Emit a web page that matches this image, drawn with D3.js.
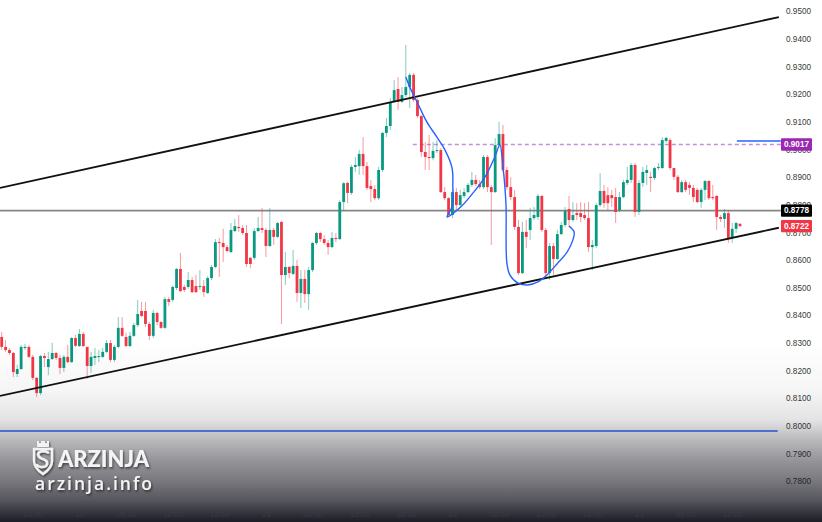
<!DOCTYPE html>
<html><head><meta charset="utf-8">
<script src="https://cdn.jsdelivr.net/npm/d3@7"></script>
<style>html,body{margin:0;padding:0;background:#fff;overflow:hidden}svg{display:block}</style>
</head><body>
<svg id="chart" width="822" height="522"></svg>
<script>
// ---- DATA (30-minute candles) ----
const opens = [0.8321,0.8285,0.8274,0.8263,0.8187,0.8205,0.8281,0.8285,0.8249,0.8173,
0.8118,0.8252,0.8212,0.8241,0.8263,0.8245,0.8209,0.8249,0.8230,0.8317,
0.8288,0.8332,0.8285,0.8216,0.8245,0.8249,0.8249,0.8267,0.8299,0.8238,
0.8285,0.8354,0.8321,0.8288,0.8325,0.8364,0.8415,0.8415,0.8368,0.8325,
0.8408,0.8375,0.8354,0.8458,0.8455,0.8498,0.8567,0.8502,0.8502,0.8527,
0.8505,0.8502,0.8505,0.8480,0.8534,0.8574,0.8664,0.8661,0.8646,0.8628,
0.8704,0.8719,0.8715,0.8697,0.8607,0.8607,0.8704,0.8715,0.8708,0.8650,
0.8708,0.8683,0.8737,0.8545,0.8574,0.8549,0.8578,0.8480,0.8531,0.8476,
0.8563,0.8661,0.8697,0.8675,0.8661,0.8646,0.8679,0.8675,0.8809,0.8878,
0.8842,0.8936,0.8939,0.8983,0.8939,0.8867,0.8856,0.8823,0.8925,0.9059,
0.9084,0.9171,0.9218,0.9171,0.9196,0.9225,0.9269,0.9178,0.9120,0.8990,
0.8972,0.8968,0.8994,0.8997,0.8845,0.8823,0.8762,0.8845,0.8798,0.8831,
0.8845,0.8871,0.8889,0.8874,0.8863,0.8972,0.8863,0.8845,0.9015,0.9055,
0.8925,0.8863,0.8827,0.8719,0.8552,0.8701,0.8708,0.8751,0.8755,0.8831,
0.8708,0.8552,0.8650,0.8603,0.8693,0.8726,0.8784,0.8744,0.8769,0.8769,
0.8762,0.8751,0.8646,0.8650,0.8798,0.8849,0.8834,0.8834,0.8827,0.8780,
0.8827,0.8878,0.8889,0.8943,0.8773,0.8878,0.8914,0.8900,0.8896,0.8932,
0.8932,0.9030,0.9033,0.8932,0.8900,0.8845,0.8881,0.8871,0.8860,0.8853,
0.8809,0.8853,0.8885,0.8827,0.8831,0.8755,0.8748,0.8769,0.8679,0.8712,
0.8730];
const highs = [0.8339,0.8310,0.8281,0.8267,0.8220,0.8292,0.8296,0.8292,0.8256,0.8176,
0.8256,0.8263,0.8267,0.8300,0.8267,0.8256,0.8256,0.8292,0.8321,0.8328,
0.8350,0.8339,0.8285,0.8267,0.8281,0.8274,0.8281,0.8310,0.8310,0.8292,
0.8393,0.8393,0.8336,0.8339,0.8372,0.8455,0.8448,0.8448,0.8375,0.8419,
0.8411,0.8379,0.8466,0.8466,0.8506,0.8570,0.8625,0.8509,0.8556,0.8538,
0.8545,0.8563,0.8527,0.8541,0.8581,0.8675,0.8679,0.8712,0.8654,0.8733,
0.8748,0.8762,0.8726,0.8726,0.8610,0.8715,0.8755,0.8788,0.8715,0.8788,
0.8715,0.8737,0.8740,0.8628,0.8578,0.8636,0.8600,0.8563,0.8563,0.8574,
0.8664,0.8701,0.8701,0.8690,0.8672,0.8701,0.8697,0.8816,0.8881,0.8882,
0.8943,0.8972,0.8997,0.9044,0.8954,0.8889,0.8870,0.8936,0.9062,0.9113,
0.9185,0.9250,0.9261,0.9225,0.9377,0.9276,0.9276,0.9185,0.9124,0.9026,
0.9052,0.9026,0.9033,0.9004,0.8863,0.8827,0.8853,0.8860,0.8853,0.8860,
0.8878,0.8918,0.8907,0.8889,0.8979,0.8979,0.8870,0.9040,0.9099,0.9088,
0.8936,0.8899,0.8853,0.8744,0.8737,0.8744,0.8788,0.8791,0.8838,0.8834,
0.8715,0.8661,0.8661,0.8708,0.8737,0.8791,0.8831,0.8809,0.8805,0.8809,
0.8805,0.8809,0.8672,0.8805,0.8914,0.8871,0.8863,0.8853,0.8860,0.8845,
0.8889,0.8936,0.8950,0.8950,0.8889,0.8936,0.8943,0.8918,0.8936,0.8950,
0.9044,0.9044,0.9041,0.8932,0.8907,0.8889,0.8889,0.8881,0.8871,0.8860,
0.8860,0.8889,0.8889,0.8871,0.8834,0.8762,0.8784,0.8780,0.8733,0.8737,
0.8733];
const lows = [0.8274,0.8267,0.8256,0.8176,0.8176,0.8202,0.8274,0.8245,0.8165,0.8104,
0.8111,0.8212,0.8183,0.8238,0.8238,0.8187,0.8194,0.8227,0.8227,0.8285,
0.8285,0.8285,0.8169,0.8191,0.8220,0.8230,0.8245,0.8263,0.8230,0.8230,
0.8281,0.8321,0.8285,0.8285,0.8321,0.8357,0.8393,0.8357,0.8310,0.8317,
0.8364,0.8350,0.8350,0.8433,0.8448,0.8491,0.8483,0.8483,0.8495,0.8480,
0.8480,0.8491,0.8466,0.8476,0.8527,0.8570,0.8538,0.8592,0.8628,0.8625,
0.8701,0.8701,0.8690,0.8574,0.8570,0.8600,0.8701,0.8697,0.8610,0.8646,
0.8654,0.8679,0.8368,0.8509,0.8534,0.8545,0.8448,0.8426,0.8444,0.8419,
0.8556,0.8654,0.8664,0.8654,0.8618,0.8643,0.8664,0.8672,0.8780,0.8805,
0.8835,0.8918,0.8907,0.8907,0.8853,0.8809,0.8816,0.8816,0.8918,0.9044,
0.9070,0.9167,0.9142,0.9167,0.9189,0.9149,0.9171,0.9113,0.8972,0.8925,
0.8925,0.8960,0.8986,0.8842,0.8816,0.8755,0.8751,0.8780,0.8791,0.8823,
0.8842,0.8863,0.8867,0.8856,0.8856,0.8845,0.8654,0.8842,0.9008,0.8918,
0.8853,0.8816,0.8708,0.8545,0.8549,0.8643,0.8672,0.8744,0.8744,0.8701,
0.8538,0.8527,0.8545,0.8600,0.8690,0.8719,0.8719,0.8737,0.8744,0.8737,
0.8744,0.8628,0.8563,0.8643,0.8791,0.8788,0.8780,0.8791,0.8733,0.8773,
0.8823,0.8871,0.8878,0.8755,0.8762,0.8863,0.8871,0.8845,0.8889,0.8925,
0.8929,0.9023,0.8925,0.8889,0.8842,0.8842,0.8845,0.8835,0.8809,0.8805,
0.8788,0.8816,0.8816,0.8816,0.8708,0.8737,0.8715,0.8661,0.8661,0.8697,
0.8719];
const closes = [0.8285,0.8274,0.8263,0.8194,0.8205,0.8285,0.8285,0.8249,0.8173,0.8118,
0.8252,0.8245,0.8241,0.8263,0.8245,0.8209,0.8249,0.8230,0.8317,0.8289,
0.8332,0.8288,0.8216,0.8249,0.8252,0.8252,0.8267,0.8299,0.8238,0.8285,
0.8354,0.8325,0.8288,0.8325,0.8364,0.8404,0.8397,0.8368,0.8325,0.8408,
0.8375,0.8354,0.8458,0.8448,0.8502,0.8567,0.8487,0.8491,0.8527,0.8483,
0.8483,0.8505,0.8483,0.8534,0.8574,0.8664,0.8661,0.8646,0.8632,0.8708,
0.8722,0.8715,0.8697,0.8585,0.8585,0.8704,0.8715,0.8708,0.8650,0.8708,
0.8683,0.8733,0.8545,0.8574,0.8552,0.8578,0.8480,0.8531,0.8476,0.8563,
0.8661,0.8697,0.8675,0.8661,0.8646,0.8679,0.8675,0.8809,0.8877,0.8842,
0.8936,0.8943,0.8983,0.8939,0.8860,0.8856,0.8823,0.8925,0.9059,0.9084,
0.9171,0.9214,0.9171,0.9196,0.9225,0.9269,0.9178,0.9120,0.8990,0.8972,
0.8968,0.8994,0.8997,0.8845,0.8823,0.8762,0.8845,0.8798,0.8834,0.8845,
0.8871,0.8889,0.8874,0.8863,0.8972,0.8863,0.8845,0.9015,0.9055,0.8925,
0.8863,0.8827,0.8719,0.8552,0.8701,0.8683,0.8751,0.8762,0.8831,0.8708,
0.8552,0.8650,0.8603,0.8693,0.8726,0.8777,0.8744,0.8762,0.8762,0.8755,
0.8751,0.8646,0.8654,0.8798,0.8849,0.8805,0.8805,0.8823,0.8773,0.8827,
0.8881,0.8889,0.8943,0.8773,0.8878,0.8918,0.8925,0.8896,0.8932,0.8936,
0.9033,0.9041,0.8932,0.8900,0.8845,0.8881,0.8853,0.8860,0.8827,0.8809,
0.8853,0.8885,0.8823,0.8823,0.8755,0.8748,0.8769,0.8679,0.8712,0.8733,
0.8722];

// price axis ticks
const priceTicks = [0.95,0.94,0.93,0.92,0.91,0.90,0.89,0.88,0.87,0.86,0.85,0.84,0.83,0.82,0.81,0.80,0.79,0.78];
// time axis labels and the candle index they sit at
const timeLabels = ["18:00","20","06:00","12:00","18:00","21","06:00","12:00","18:00","22","06:00","12:00","18:00","23","06:00","12:00"];
const timeLabelIndex = [8,20,32,44,56,68,80,92,104,116,128,140,152,164,176,188];

// drawings: [candle index, price]
const upperChannel = [[-0.44,0.8860],[200.0,0.9478]];
const lowerChannel = [[-0.44,0.8108],[200.0,0.8716]];
const hLineGray = {price:0.8778, from:-0.44, to:200.5};
const hLineBlue = {price:0.7981, from:-0.44, to:199.7};
const hLineDash = {price:0.9017, from:105.8, to:200.5};
const hLineBlueShort = {price:0.9030, from:189.2, to:200.5};
const blueCurve = [[104.0,0.9261],[105.1,0.9222],[106.9,0.9171],[109.4,0.9099],[112.0,0.9044],[114.1,0.8997],
 [115.9,0.8932],[116.1,0.8863],[116.1,0.8798],[114.6,0.8755],[117.9,0.8788],[121.3,0.8842],[124.4,0.8900],
 [126.9,0.8972],[128.2,0.9015],[129.0,0.8936],[129.5,0.8863],[129.8,0.8791],[130.0,0.8589],[130.8,0.8545],
 [132.9,0.8516],[135.4,0.8509],[138.0,0.8520],[140.3,0.8545],[142.9,0.8585],[145.5,0.8628],[147.0,0.8672],
 [147.3,0.8701],[146.0,0.8722]];
const priceTags = [
  {value:"0.9017", price:0.9017, bg:"#9c27b0"},
  {value:"0.8778", price:0.8778, bg:"#000000"},
  {value:"0.8722", price:0.8722, bg:"#f23645"}
];

// ---- DRAW ----
const svg = d3.select("#chart");
const W = 822, H = 522;
const x = d3.scaleLinear().domain([0, 190]).range([1.7, 740]);
const y = d3.scaleLinear().domain([0.78, 0.95]).range([481, 11]);
const UP = "#089981", DOWN = "#f23645";
const font = "'Liberation Sans', Arial, sans-serif";

svg.append("rect").attr("width", W).attr("height", H).attr("fill", "#ffffff");

// price axis labels (right)
const yAxis = d3.axisRight(y).tickValues(priceTicks).tickFormat(d3.format(".4f")).tickSize(0).tickPadding(0);
const gy = svg.append("g").attr("transform", "translate(786,0)").call(yAxis);
gy.select(".domain").remove();
gy.selectAll("text").attr("font-family", font).attr("font-size", 8.2).attr("fill", "#3a3a3a").attr("dy", "0.35em");

// horizontal lines
function hline(o, color, width, dash) {
  svg.append("line").attr("x1", x(o.from)).attr("x2", x(o.to))
    .attr("y1", y(o.price)).attr("y2", y(o.price))
    .attr("stroke", color).attr("stroke-width", width)
    .attr("stroke-dasharray", dash || null);
}
hline(hLineGray, "#858585", 1.6);
hline(hLineBlue, "#2962ff", 1.5);
hline(hLineDash, "#c98bdc", 1.4, "4,3");
hline(hLineBlueShort, "#2962ff", 1.5);

// candles
const idx = d3.range(opens.length);
const bw = 2.8;
const g = svg.append("g");
g.selectAll("line.wick").data(idx).join("line").attr("class", "wick")
  .attr("x1", i => x(i)).attr("x2", i => x(i))
  .attr("y1", i => y(highs[i])).attr("y2", i => y(lows[i]))
  .attr("stroke", i => closes[i] >= opens[i] ? UP : DOWN)
  .attr("stroke-opacity", 0.5).attr("stroke-width", 1);
g.selectAll("rect.body").data(idx).join("rect").attr("class", "body")
  .attr("x", i => x(i) - bw / 2).attr("width", bw)
  .attr("y", i => y(Math.max(opens[i], closes[i])))
  .attr("height", i => Math.max(1, Math.abs(y(opens[i]) - y(closes[i]))))
  .attr("fill", i => closes[i] >= opens[i] ? UP : DOWN);

// channel lines
const lineGen = d3.line().x(d => x(d[0])).y(d => y(d[1]));
svg.append("path").attr("d", lineGen(upperChannel)).attr("stroke", "#111").attr("stroke-width", 1.8).attr("fill", "none");
svg.append("path").attr("d", lineGen(lowerChannel)).attr("stroke", "#111").attr("stroke-width", 1.8).attr("fill", "none");

// blue hand-drawn curve
svg.append("path").attr("d", lineGen.curve(d3.curveCatmullRom.alpha(0.5))(blueCurve))
  .attr("stroke", "#2962ff").attr("stroke-width", 1.4).attr("fill", "none");

// price tags
const tags = svg.append("g");
priceTags.forEach(t => {
  tags.append("rect").attr("x", 781).attr("y", y(t.price) - 6.2).attr("width", 31).attr("height", 12.4)
    .attr("fill", t.bg).attr("rx", 1);
  tags.append("text").attr("x", 796.5).attr("y", y(t.price)).attr("dy", "0.35em")
    .attr("text-anchor", "middle").attr("font-family", font).attr("font-size", 8.2)
    .attr("font-weight", "bold").attr("fill", "#ffffff").text(t.value);
});

// bottom dark gradient overlay
const defs = svg.append("defs");
const grad = defs.append("linearGradient").attr("id", "fade").attr("gradientUnits", "userSpaceOnUse")
  .attr("x1", 0).attr("x2", 0).attr("y1", 0).attr("y2", H);
[[340,0],[390,0.04],[420,0.12],[440,0.3],[460,0.45],[480,0.57],[500,0.72],[522,0.97]].forEach(s => {
  grad.append("stop").attr("offset", s[0] / H).attr("stop-color", "#15151f").attr("stop-opacity", s[1]);
});
svg.append("rect").attr("width", W).attr("height", H).attr("fill", "url(#fade)");

// time axis labels
const xAxis = d3.axisBottom(x).tickValues(timeLabelIndex).tickFormat((d, i) => timeLabels[i]).tickSize(0).tickPadding(0);
const gx = svg.append("g").attr("transform", "translate(0,514)").call(xAxis);
gx.select(".domain").remove();
gx.selectAll("text").attr("font-family", font).attr("font-size", 8).attr("fill", "#3a3a46").attr("dy", "0.35em");

// watermark logo
const shadow = defs.append("filter").attr("id", "sh").attr("x", "-20%").attr("y", "-20%").attr("width", "140%").attr("height", "160%");
shadow.append("feDropShadow").attr("dx", 1).attr("dy", 1.5).attr("stdDeviation", 1).attr("flood-color", "#000").attr("flood-opacity", 0.6);
const logo = svg.append("g").attr("filter", "url(#sh)");
logo.append("path")
  .attr("d", "M37,441 L39,441 L39,443 L41,443 L41,441 L45,441 L45,443 L47,443 L47,441 L49,441 L49,447 L37,447 Z")
  .attr("fill", "#f2f2f2");
logo.append("path")
  .attr("d", "M34,449 L52,449 L52,461 Q52,468 43,474 Q34,468 34,461 Z")
  .attr("fill", "none").attr("stroke", "#f2f2f2").attr("stroke-width", 2.4);
logo.append("path")
  .attr("d", "M48,452.5 Q45,450.5 41,451.5 Q37,453 38.5,456 Q40,458.5 44,459.5 Q48,461 47,464.5 Q45.5,467.5 41,467 Q38,466.5 37,465")
  .attr("fill", "none").attr("stroke", "#f2f2f2").attr("stroke-width", 2.6).attr("stroke-linecap", "round");
logo.append("text").attr("x", 58).attr("y", 467).attr("font-family", "Lato, 'Open Sans', sans-serif")
  .attr("font-weight", "900").attr("font-size", 22).attr("fill", "#f4f4f4")
  .attr("textLength", 91).attr("lengthAdjust", "spacingAndGlyphs").text("ARZINJA");
logo.append("text").attr("x", 35).attr("y", 490).attr("font-family", "'Open Sans', Lato, sans-serif")
  .attr("font-weight", "600").attr("font-size", 17.5).attr("fill", "#f4f4f4")
  .attr("textLength", 117).attr("lengthAdjust", "spacing").text("arzinja.info");
</script>
</body></html>
